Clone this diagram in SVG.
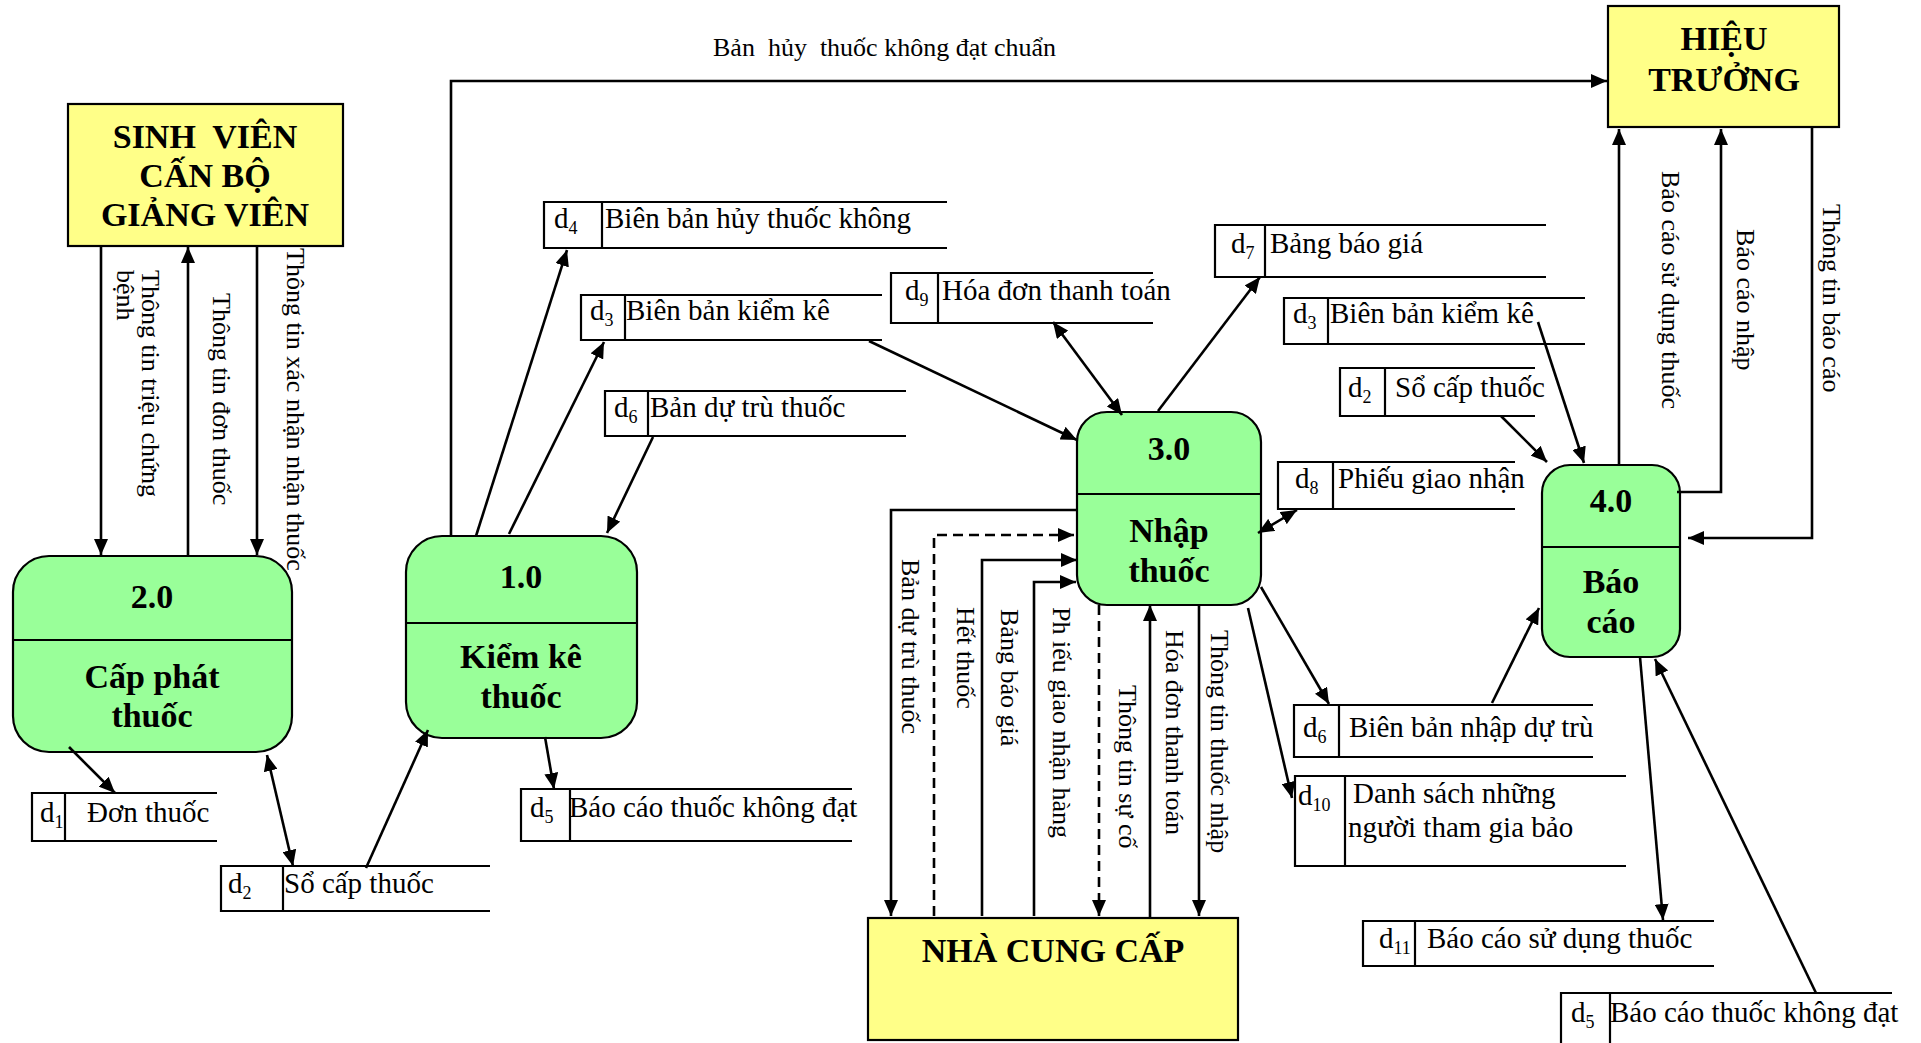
<svg xmlns="http://www.w3.org/2000/svg" width="1921" height="1043" viewBox="0 0 1921 1043">
  <style>
    text { font-family: "Liberation Serif", "Times New Roman", serif; fill: #000; }
    .ext { fill: #FFFF88; stroke: #000; stroke-width: 2.2; }
    .proc { fill: #99FF99; stroke: #000; stroke-width: 2.2; }
    .div { stroke: #000; stroke-width: 2.2; }
    .big { font-size: 34px; font-weight: bold; text-anchor: middle; }
    .store { fill: none; stroke: #000; stroke-width: 2.2; }
    .st { font-size: 29px; }
    .lbl { font-size: 26px; }
    .flow { fill: none; stroke: #000; stroke-width: 2.6; marker-end: url(#ah); }
    .both { marker-start: url(#ah); }
    .dash { stroke-dasharray: 10 6; }
  </style>
  <defs>
    <marker id="ah" markerUnits="userSpaceOnUse" markerWidth="17" markerHeight="14" refX="16" refY="7" orient="auto-start-reverse">
      <path d="M0,0 L16,7 L0,14 Z" fill="#000"/>
    </marker>
  </defs>

  <rect width="1921" height="1043" fill="#fff"/>

  <!-- external entities -->
  <g id="sinh-vien">
    <rect class="ext" x="68" y="104" width="275" height="142"/>
    <text class="big" x="205" y="148" xml:space="preserve">SINH  VIÊN</text>
    <text class="big" x="205" y="187">CẤN BỘ</text>
    <text class="big" x="205" y="226">GIẢNG VIÊN</text>
  </g>

  <g id="hieu-truong">
    <rect class="ext" x="1608" y="6" width="231" height="121"/>
    <text class="big" x="1724" y="50">HIỆU</text>
    <text class="big" x="1724" y="91">TRƯỞNG</text>
  </g>

  <g id="nha-cung-cap">
    <rect class="ext" x="868" y="918" width="370" height="122"/>
    <text class="big" x="1053" y="962">NHÀ CUNG CẤP</text>
  </g>

  <!-- processes -->
  <g id="p2">
    <rect class="proc" x="13" y="556" width="279" height="196" rx="36"/>
    <line class="div" x1="13" y1="640" x2="292" y2="640"/>
    <text class="big" x="152" y="608">2.0</text>
    <text class="big" x="152" y="688">Cấp phát</text>
    <text class="big" x="152" y="727">thuốc</text>
  </g>

  <g id="p1">
    <rect class="proc" x="406" y="536" width="231" height="202" rx="36"/>
    <line class="div" x1="406" y1="623" x2="637" y2="623"/>
    <text class="big" x="521" y="588">1.0</text>
    <text class="big" x="521" y="668">Kiểm kê</text>
    <text class="big" x="521" y="708">thuốc</text>
  </g>

  <g id="p3">
    <rect class="proc" x="1077" y="412" width="184" height="193" rx="30"/>
    <line class="div" x1="1077" y1="494" x2="1261" y2="494"/>
    <text class="big" x="1169" y="460">3.0</text>
    <text class="big" x="1169" y="542">Nhập</text>
    <text class="big" x="1169" y="582">thuốc</text>
  </g>

  <g id="p4">
    <rect class="proc" x="1542" y="465" width="138" height="192" rx="28"/>
    <line class="div" x1="1542" y1="547" x2="1680" y2="547"/>
    <text class="big" x="1611" y="512">4.0</text>
    <text class="big" x="1611" y="593">Báo</text>
    <text class="big" x="1611" y="633">cáo</text>
  </g>

  <!-- data stores -->
  <g id="d1">
    <path class="store" d="M217,793 H32 V841 H217 M65,793 V841"/>
    <text class="st" x="40" y="822">d<tspan font-size="18" dy="6">1</tspan></text>
    <text class="st" x="87" y="822">Đơn thuốc</text>
  </g>
  <g id="d2-left">
    <path class="store" d="M490,866 H221 V911 H490 M283,866 V911"/>
    <text class="st" x="228" y="893">d<tspan font-size="18" dy="6">2</tspan></text>
    <text class="st" x="284" y="893">Sổ cấp thuốc</text>
  </g>
  <g id="d4">
    <path class="store" d="M947,202 H544 V248 H947 M602,202 V248"/>
    <text class="st" x="554" y="228">d<tspan font-size="18" dy="6">4</tspan></text>
    <text class="st" x="605" y="228">Biên bản hủy thuốc không</text>
  </g>
  <g id="d3-left">
    <path class="store" d="M882,295 H581 V340 H882 M625,295 V340"/>
    <text class="st" x="590" y="320">d<tspan font-size="18" dy="6">3</tspan></text>
    <text class="st" x="626" y="320">Biên bản kiểm kê</text>
  </g>
  <g id="d6-left">
    <path class="store" d="M906,391 H605 V436 H906 M648,391 V436"/>
    <text class="st" x="614" y="417">d<tspan font-size="18" dy="6">6</tspan></text>
    <text class="st" x="650" y="417">Bản dự trù thuốc</text>
  </g>
  <g id="d9">
    <path class="store" d="M1153,273 H891 V323 H1153 M938,273 V323"/>
    <text class="st" x="905" y="300">d<tspan font-size="18" dy="6">9</tspan></text>
    <text class="st" x="942" y="300">Hóa đơn thanh toán</text>
  </g>
  <g id="d5-left">
    <path class="store" d="M852,789 H521 V841 H852 M570,789 V841"/>
    <text class="st" x="530" y="817">d<tspan font-size="18" dy="6">5</tspan></text>
    <text class="st" x="569" y="817">Báo cáo thuốc không đạt</text>
  </g>
  <g id="d7">
    <path class="store" d="M1546,225 H1215 V277 H1546 M1265,225 V277"/>
    <text class="st" x="1231" y="253">d<tspan font-size="18" dy="6">7</tspan></text>
    <text class="st" x="1270" y="253">Bảng báo giá</text>
  </g>
  <g id="d3-right">
    <path class="store" d="M1585,298 H1284 V344 H1585 M1328,298 V344"/>
    <text class="st" x="1293" y="323">d<tspan font-size="18" dy="6">3</tspan></text>
    <text class="st" x="1330" y="323">Biên bản kiểm kê</text>
  </g>
  <g id="d2-right">
    <path class="store" d="M1535,368 H1340 V416 H1535 M1385,368 V416"/>
    <text class="st" x="1348" y="397">d<tspan font-size="18" dy="6">2</tspan></text>
    <text class="st" x="1395" y="397">Sổ cấp thuốc</text>
  </g>
  <g id="d8">
    <path class="store" d="M1515,462 H1278 V509 H1515 M1333,462 V509"/>
    <text class="st" x="1295" y="488">d<tspan font-size="18" dy="6">8</tspan></text>
    <text class="st" x="1338" y="488">Phiếu giao nhận</text>
  </g>
  <g id="d6-right">
    <path class="store" d="M1593,705 H1294 V757 H1593 M1339,705 V757"/>
    <text class="st" x="1303" y="737">d<tspan font-size="18" dy="6">6</tspan></text>
    <text class="st" x="1349" y="737">Biên bản nhập dự trù</text>
  </g>
  <g id="d10">
    <path class="store" d="M1626,776 H1295 V866 H1626 M1345,776 V866"/>
    <text class="st" x="1298" y="805">d<tspan font-size="18" dy="6">10</tspan></text>
    <text class="st" x="1353" y="803">Danh sách những</text>
    <text class="st" x="1348" y="837">người tham gia bảo</text>
  </g>
  <g id="d11">
    <path class="store" d="M1714,921 H1363 V966 H1714 M1415,921 V966"/>
    <text class="st" x="1379" y="948">d<tspan font-size="18" dy="6">11</tspan></text>
    <text class="st" x="1427" y="948">Báo cáo sử dụng thuốc</text>
  </g>
  <g id="d5-right">
    <path class="store" d="M1892,993 H1561 V1043 M1610,993 V1043"/>
    <text class="st" x="1571" y="1022">d<tspan font-size="18" dy="6">5</tspan></text>
    <text class="st" x="1610" y="1022">Báo cáo thuốc không đạt</text>
  </g>

  <!-- data flows -->
  <g id="connectors">
    <path class="flow" d="M101,246 V555"/>
    <path class="flow" d="M188,556 V247"/>
    <path class="flow" d="M257,246 V555"/>
    <path class="flow" d="M69,747 L115,793"/>
    <path class="flow both" d="M267,755 L293,866"/>
    <path class="flow" d="M366,868 L428,730"/>
    <path class="flow" d="M476,536 L567,250"/>
    <path class="flow" d="M509,534 L604,342"/>
    <path class="flow" d="M653,437 L607,533"/>
    <path class="flow" d="M451,536 V81 H1607"/>
    <path class="flow" d="M545,737 L554,789"/>
    <path class="flow" d="M869,341 L1077,440"/>
    <path class="flow both" d="M1053,322 L1122,415"/>
    <path class="flow" d="M1158,411 L1260,277"/>
    <path class="flow" d="M1077,510 H891 V916"/>
    <path class="flow dash" d="M934,916 V535 H1074"/>
    <path class="flow" d="M982,916 V560 H1077"/>
    <path class="flow" d="M1034,916 V582 H1076"/>
    <path class="flow dash" d="M1099,605 V916"/>
    <path class="flow" d="M1150,918 V605"/>
    <path class="flow" d="M1199,605 V916"/>
    <path class="flow both" d="M1258,533 L1297,510"/>
    <path class="flow" d="M1261,587 L1329,704"/>
    <path class="flow" d="M1248,608 L1292,798"/>
    <path class="flow" d="M1492,703 L1539,608"/>
    <path class="flow" d="M1538,322 L1584,463"/>
    <path class="flow" d="M1501,416 L1547,462"/>
    <path class="flow" d="M1619,465 V129"/>
    <path class="flow" d="M1677,492 H1721 V129"/>
    <path class="flow" d="M1812,127 V538 H1688"/>
    <path class="flow" d="M1640,657 L1663,920"/>
    <path class="flow" d="M1816,993 L1655,659"/>

    <!-- flow labels -->
    <text class="lbl" x="713" y="56" xml:space="preserve">Bản  hủy  thuốc không đạt chuẩn</text>
    <text class="lbl" transform="translate(142,270) rotate(90)">Thông tin triệu chứng</text>
    <text class="lbl" transform="translate(117,270) rotate(90)">bệnh</text>
    <text class="lbl" transform="translate(213,293) rotate(90)">Thông tin đơn thuốc</text>
    <text class="lbl" transform="translate(287,248) rotate(90)">Thông tin xác nhận nhận thuốc</text>
    <text class="lbl" transform="translate(902,559) rotate(90)">Bản dự trù thuốc</text>
    <text class="lbl" transform="translate(957,607) rotate(90)">Hết thuốc</text>
    <text class="lbl" transform="translate(1001,609) rotate(90)">Bảng báo giá</text>
    <text class="lbl" transform="translate(1053,607) rotate(90)">Ph iếu giao nhận hàng</text>
    <text class="lbl" transform="translate(1119,685) rotate(90)">Thông tin sự cố</text>
    <text class="lbl" transform="translate(1166,630) rotate(90)">Hóa đơn thanh toán</text>
    <text class="lbl" transform="translate(1211,630) rotate(90)">Thông tin thuốc nhập</text>
    <text class="lbl" transform="translate(1662,171) rotate(90)">Báo cáo sử dụng thuốc</text>
    <text class="lbl" transform="translate(1737,229) rotate(90)">Báo cáo nhập</text>
    <text class="lbl" transform="translate(1823,204) rotate(90)">Thông tin báo cáo</text>
  </g>
</svg>
